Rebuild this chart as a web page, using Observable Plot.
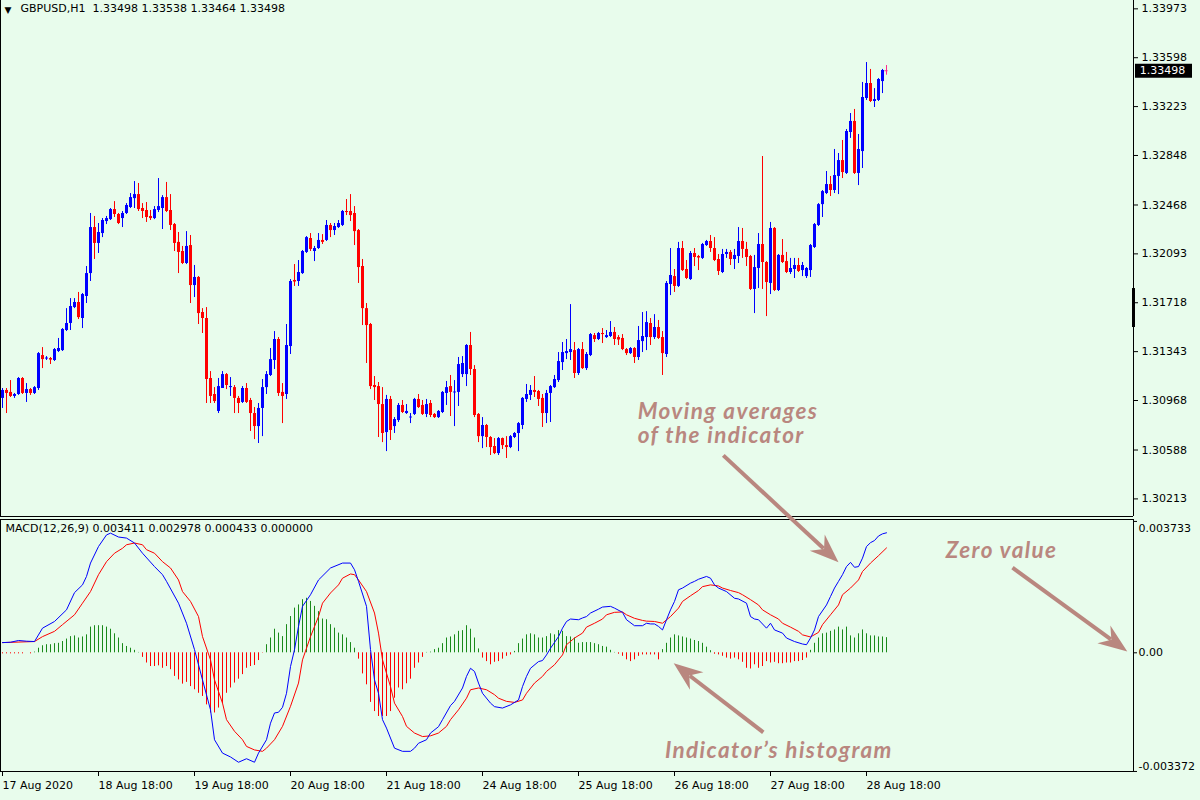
<!DOCTYPE html>
<html><head><meta charset="utf-8">
<script src="https://cdn.jsdelivr.net/npm/d3@7"></script>
<script src="https://cdn.jsdelivr.net/npm/@observablehq/plot@0.6"></script>
<style>
html,body{margin:0;padding:0;background:#e8fcec;}
#wrap{position:relative;width:1200px;height:800px;overflow:hidden;background:#e8fcec;}
#p1{position:absolute;left:0;top:0;}
#p2{position:absolute;left:0;top:517px;}
.note text{letter-spacing:1.4px;}
</style></head><body><div id="wrap"><div id="p1"></div><div id="p2"></div></div>
<script>
// ---------- price data (GBPUSD H1, one value per hourly bar) ----------
const opens = [
1.30984,1.31045,1.31030,1.30999,1.31014,1.31137,1.31022,1.31052,1.31022,1.31060,
1.31313,1.31286,1.31290,1.31275,1.31344,1.31351,1.31505,1.31559,1.31681,1.31720,
1.31597,1.31766,1.31942,1.32295,1.32173,1.32249,1.32341,1.32356,1.32433,1.32395,
1.32364,1.32403,1.32449,1.32517,1.32548,1.32441,1.32426,1.32380,1.32364,1.32426,
1.32441,1.32525,1.32426,1.32318,1.32181,1.32111,1.32019,1.32157,1.31850,1.31912,
1.31643,1.31597,1.31137,1.31014,1.30884,1.31060,1.31167,1.31067,1.31067,1.30984,
1.30953,1.31060,1.30968,1.30868,1.30768,1.30907,1.31067,1.31160,1.31275,1.31436,
1.31030,1.31014,1.31382,1.31889,1.31881,1.31942,1.32104,1.32211,1.32111,1.32134,
1.32196,1.32196,1.32311,1.32272,1.32295,1.32311,1.32418,1.32418,1.32403,1.32272,
1.31996,1.31673,1.31551,1.31083,1.31075,1.30937,1.30722,1.30976,1.30768,1.30814,
1.30930,1.30868,1.30834,1.30861,1.30976,1.30930,1.30861,1.30945,1.30861,1.30837,
1.30876,1.31022,1.31075,1.31026,1.31030,1.31167,1.31167,1.31390,1.31206,1.30861,
1.30691,1.30776,1.30684,1.30615,1.30561,1.30676,1.30622,1.30607,1.30684,1.30715,
1.30776,1.30976,1.31007,1.31045,1.31037,1.30984,1.30868,1.31022,1.31067,1.31121,
1.31259,1.31328,1.31336,1.31351,1.31175,1.31359,1.31213,1.31313,1.31466,1.31436,
1.31482,1.31451,1.31459,1.31490,1.31451,1.31444,1.31359,1.31328,1.31367,1.31298,
1.31420,1.31451,1.31559,1.31451,1.31528,1.31451,1.31321,1.31858,1.31919,1.31843,
1.32134,1.31973,1.31896,1.32096,1.32073,1.32058,1.32157,1.32188,1.32134,1.32050,
1.31950,1.32088,1.32104,1.32050,1.32073,1.32188,1.32127,1.32073,1.31820,1.31981,
1.32165,1.32027,1.31866,1.32288,1.31812,1.32081,1.32034,1.31950,1.31973,1.32004,
1.31965,1.31919,1.31965,1.32142,1.32311,1.32471,1.32556,1.32625,1.32579,1.32687,
1.32809,1.32710,1.33024,1.33109,1.32710,1.32878,1.33285,1.33400,1.33262,1.33270,
1.33415,1.33498];
const highs = [
1.31060,1.31060,1.31121,1.31022,1.31144,1.31144,1.31098,1.31060,1.31075,1.31336,
1.31374,1.31305,1.31298,1.31367,1.31444,1.31520,1.31673,1.31750,1.31750,1.31797,
1.31789,1.31996,1.32403,1.32380,1.32326,1.32364,1.32380,1.32441,1.32494,1.32403,
1.32418,1.32479,1.32556,1.32648,1.32633,1.32479,1.32487,1.32426,1.32456,1.32671,
1.32540,1.32641,1.32548,1.32326,1.32257,1.32150,1.32264,1.32234,1.32004,1.31919,
1.31673,1.31681,1.31190,1.31067,1.31137,1.31190,1.31175,1.31144,1.31083,1.30999,
1.31075,1.31098,1.30984,1.30914,1.30945,1.31129,1.31190,1.31367,1.31497,1.31451,
1.31098,1.31551,1.31896,1.32011,1.32042,1.32119,1.32226,1.32249,1.32150,1.32249,
1.32241,1.32349,1.32326,1.32326,1.32349,1.32426,1.32510,1.32548,1.32456,1.32280,
1.32050,1.31712,1.31559,1.31152,1.31106,1.31067,1.31007,1.30999,1.30837,1.30945,
1.30968,1.30937,1.30868,1.30984,1.31014,1.30968,1.30976,1.30968,1.30868,1.30891,
1.31037,1.31114,1.31160,1.31121,1.31298,1.31305,1.31397,1.31490,1.31236,1.30868,
1.30837,1.30784,1.30691,1.30676,1.30684,1.30680,1.30691,1.30699,1.30722,1.30799,
1.30991,1.31091,1.31083,1.31152,1.31045,1.31014,1.31045,1.31083,1.31160,1.31336,
1.31413,1.31436,1.31704,1.31413,1.31367,1.31413,1.31336,1.31482,1.31482,1.31490,
1.31520,1.31505,1.31574,1.31528,1.31466,1.31474,1.31367,1.31374,1.31374,1.31536,
1.31643,1.31650,1.31597,1.31627,1.31582,1.31497,1.31881,1.32134,1.31973,1.32181,
1.32188,1.32042,1.32111,1.32134,1.32081,1.32173,1.32196,1.32234,1.32218,1.32088,
1.32127,1.32127,1.32119,1.32127,1.32295,1.32288,1.32181,1.32081,1.32081,1.32249,
1.32840,1.32034,1.32334,1.32295,1.32088,1.32203,1.32104,1.32058,1.32058,1.32058,
1.32027,1.31988,1.32165,1.32326,1.32479,1.32579,1.32725,1.32687,1.32894,1.32863,
1.32963,1.33047,1.33170,1.33201,1.33009,1.33408,1.33561,1.33508,1.33361,1.33438,
1.33508,1.33538];
const lows = [
1.30907,1.30868,1.30991,1.30984,1.31007,1.31014,1.30953,1.31007,1.31014,1.31045,
1.31213,1.31275,1.31244,1.31267,1.31336,1.31344,1.31497,1.31505,1.31673,1.31589,
1.31520,1.31712,1.31881,1.32050,1.32096,1.32218,1.32318,1.32349,1.32372,1.32318,
1.32295,1.32395,1.32441,1.32441,1.32418,1.32364,1.32334,1.32349,1.32356,1.32410,
1.32280,1.32410,1.32272,1.32111,1.31942,1.32011,1.32011,1.31712,1.31758,1.31551,
1.31482,1.30945,1.30945,1.30945,1.30868,1.31060,1.31052,1.30999,1.30868,1.30868,
1.30945,1.30945,1.30730,1.30668,1.30638,1.30691,1.31014,1.31152,1.31206,1.30999,
1.30791,1.30976,1.31321,1.31843,1.31843,1.31935,1.32096,1.32111,1.32034,1.32127,
1.32165,1.32188,1.32218,1.32234,1.32288,1.32303,1.32387,1.32341,1.32157,1.31866,
1.31543,1.31252,1.31052,1.30968,1.30684,1.30645,1.30576,1.30661,1.30715,1.30799,
1.30868,1.30861,1.30791,1.30853,1.30907,1.30853,1.30837,1.30837,1.30830,1.30830,
1.30868,1.30930,1.30845,1.30768,1.30922,1.31144,1.31075,1.31160,1.30837,1.30645,
1.30599,1.30607,1.30546,1.30553,1.30546,1.30592,1.30523,1.30599,1.30676,1.30576,
1.30745,1.30953,1.30968,1.30991,1.30922,1.30761,1.30791,1.30799,1.31060,1.31106,
1.31198,1.31282,1.31275,1.31137,1.31160,1.31206,1.31198,1.31305,1.31413,1.31428,
1.31405,1.31444,1.31451,1.31390,1.31390,1.31351,1.31313,1.31321,1.31252,1.31275,
1.31336,1.31351,1.31390,1.31436,1.31436,1.31160,1.31298,1.31773,1.31797,1.31835,
1.31958,1.31896,1.31889,1.31996,1.31965,1.32050,1.32150,1.32104,1.32034,1.31927,
1.31942,1.32058,1.32004,1.31973,1.32019,1.32058,1.31996,1.31812,1.31635,1.31827,
1.31820,1.31612,1.31781,1.31804,1.31804,1.32019,1.31942,1.31935,1.31904,1.31950,
1.31919,1.31904,1.31912,1.32134,1.32303,1.32372,1.32548,1.32533,1.32556,1.32548,
1.32671,1.32702,1.32979,1.32702,1.32617,1.32748,1.33270,1.33254,1.33216,1.33262,
1.33323,1.33464];
const closes = [
1.31045,1.31022,1.30999,1.31014,1.31137,1.31022,1.31052,1.31022,1.31067,1.31328,
1.31282,1.31294,1.31278,1.31359,1.31367,1.31513,1.31559,1.31689,1.31720,1.31604,
1.31781,1.31942,1.32295,1.32173,1.32257,1.32349,1.32364,1.32433,1.32395,1.32326,
1.32403,1.32464,1.32525,1.32548,1.32433,1.32418,1.32372,1.32364,1.32433,1.32456,
1.32525,1.32418,1.32311,1.32173,1.32104,1.32019,1.32150,1.31850,1.31912,1.31635,
1.31597,1.31129,1.30999,1.30960,1.31075,1.31167,1.31083,1.31075,1.30984,1.30945,
1.31060,1.30953,1.30868,1.30768,1.30907,1.31067,1.31167,1.31282,1.31436,1.31022,
1.30999,1.31390,1.31881,1.31877,1.31950,1.32111,1.32218,1.32127,1.32134,1.32196,
1.32181,1.32311,1.32272,1.32303,1.32326,1.32418,1.32410,1.32387,1.32264,1.31988,
1.31673,1.31543,1.31075,1.31067,1.30937,1.30715,1.30976,1.30738,1.30822,1.30930,
1.30876,1.30884,1.30841,1.30976,1.30914,1.30861,1.30937,1.30853,1.30837,1.30884,
1.31030,1.31067,1.31030,1.31033,1.31244,1.31252,1.31390,1.31206,1.30853,1.30691,
1.30776,1.30684,1.30607,1.30561,1.30676,1.30622,1.30607,1.30691,1.30715,1.30791,
1.30984,1.31014,1.31045,1.31030,1.30976,1.30868,1.31022,1.31075,1.31129,1.31267,
1.31336,1.31344,1.31359,1.31175,1.31359,1.31213,1.31321,1.31474,1.31436,1.31482,
1.31474,1.31466,1.31490,1.31436,1.31432,1.31359,1.31328,1.31367,1.31298,1.31428,
1.31459,1.31566,1.31451,1.31528,1.31444,1.31328,1.31866,1.31927,1.31843,1.32134,
1.31965,1.31904,1.32096,1.32065,1.32061,1.32165,1.32188,1.32134,1.32042,1.31958,
1.32088,1.32104,1.32050,1.32081,1.32188,1.32127,1.32065,1.31820,1.31988,1.32165,
1.32027,1.31873,1.32288,1.31812,1.32081,1.32027,1.31950,1.31981,1.32004,1.31958,
1.32004,1.31981,1.32157,1.32318,1.32471,1.32571,1.32625,1.32579,1.32694,1.32809,
1.32717,1.33032,1.33109,1.32710,1.32894,1.33293,1.33400,1.33262,1.33277,1.33431,
1.33500,1.33498];

// ---------- MACD(12,26,9) data, values in thousandths (x 0.001) ----------
const macdHist = [
-0.03,-0.03,-0.03,-0.03,-0.03,-0.03,0,-0.03,0.02,0.13,
0.20,0.23,0.23,0.26,0.27,0.32,0.39,0.46,0.48,0.42,
0.45,0.51,0.73,0.77,0.77,0.77,0.73,0.67,0.54,0.42,
0.26,0.18,0.13,0.07,0.01,-0.13,-0.29,-0.39,-0.39,-0.37,
-0.44,-0.39,-0.48,-0.67,-0.77,-0.89,-0.84,-0.96,-1.05,-1.15,
-1.24,-1.48,-1.71,-1.71,-1.57,-1.45,-1.15,-1.00,-0.86,-0.75,
-0.62,-0.44,-0.39,-0.36,-0.22,-0.01,0.23,0.42,0.67,0.56,
0.46,0.80,1.03,1.27,1.36,1.51,1.55,1.46,1.32,1.17,
0.96,0.94,0.80,0.70,0.56,0.51,0.42,0.29,0.13,-0.18,
-0.60,-0.91,-1.41,-1.67,-1.81,-1.81,-1.81,-1.67,-1.29,-1.00,
-1.05,-0.88,-0.75,-0.44,-0.29,-0.13,0.01,0.02,0.09,0.13,
0.26,0.42,0.45,0.51,0.61,0.63,0.77,0.67,0.42,0.11,
-0.15,-0.25,-0.34,-0.27,-0.25,-0.18,-0.10,-0.06,0.04,0.26,
0.39,0.51,0.54,0.51,0.42,0.42,0.46,0.54,0.51,0.63,
0.61,0.46,0.45,0.42,0.27,0.29,0.29,0.29,0.26,0.23,
0.18,0.16,0.07,0.01,-0.04,-0.10,-0.20,-0.25,-0.20,-0.10,
-0.06,-0.06,-0.06,-0.06,-0.20,0.09,0.27,0.42,0.51,0.48,
0.45,0.42,0.39,0.35,0.32,0.27,0.16,0.06,-0.04,-0.06,
-0.10,-0.15,-0.18,-0.15,-0.20,-0.27,-0.44,-0.46,-0.34,-0.44,
-0.39,-0.25,-0.29,-0.27,-0.31,-0.31,-0.29,-0.29,-0.25,-0.25,
-0.22,-0.15,0.07,0.27,0.42,0.54,0.56,0.61,0.65,0.73,
0.65,0.73,0.48,0.42,0.54,0.65,0.54,0.48,0.48,0.45,
0.45,0.43];
// [bar, value] samples of the blue MACD line
const macdMain = [[0,0.29],[2,0.30],[4,0.35],[6,0.33],[8,0.32],[10,0.70],[13,0.89],[16,1.22],[18,1.71],[20,1.93],[21,2.17],[22,2.55],[24,3.02],[26,3.35],[27,3.40],[29,3.29],[31,3.26],[33,3.12],[35,2.83],[38,2.45],[40,2.22],[41,2.03],[44,1.41],[46,0.84],[48,0.09],[50,-0.77],[52,-1.62],[53,-2.47],[55,-2.85],[57,-2.96],[59,-3.11],[61,-3.01],[63,-3.11],[64,-2.85],[66,-2.47],[67,-2.00],[68,-1.71],[69,-1.69],[70,-1.55],[71,-1.15],[72,-0.39],[73,0.09],[74,0.75],[75,1.32],[77,1.65],[79,2.07],[82,2.41],[85,2.55],[87,2.55],[88,2.36],[89,2.03],[91,1.32],[92,0.09],[93,-0.77],[94,-1.15],[95,-1.90],[96,-2.14],[98,-2.71],[100,-2.80],[102,-2.80],[103,-2.71],[104,-2.57],[106,-2.47],[107,-2.28],[109,-2.10],[110,-1.90],[112,-1.50],[113,-1.38],[115,-1.00],[116,-0.67],[117,-0.44],[118,-0.53],[119,-0.86],[120,-1.15],[122,-1.43],[123,-1.53],[125,-1.57],[127,-1.48],[129,-1.34],[130,-0.96],[131,-0.67],[132,-0.44],[134,-0.25],[135,-0.22],[136,-0.06],[137,0.13],[139,0.46],[140,0.70],[141,0.89],[142,0.96],[144,0.94],[145,0.99],[146,1.03],[147,1.13],[149,1.24],[150,1.30],[152,1.32],[153,1.27],[155,1.15],[156,0.94],[158,0.77],[160,0.77],[161,0.84],[162,0.82],[163,0.82],[164,0.75],[165,0.65],[166,0.94],[167,1.22],[168,1.46],[169,1.79],[170,1.84],[172,1.98],[173,2.03],[174,2.09],[176,2.17],[177,2.12],[178,1.93],[179,1.84],[181,1.74],[183,1.55],[184,1.53],[186,1.41],[187,1.03],[188,0.96],[189,0.94],[191,0.70],[192,0.84],[193,0.65],[195,0.56],[196,0.42],[198,0.32],[200,0.25],[201,0.23],[202,0.42],[203,0.65],[204,1.03],[206,1.36],[207,1.60],[208,1.84],[209,2.03],[210,2.22],[211,2.45],[212,2.57],[213,2.43],[214,2.45],[215,2.69],[216,3.02],[217,3.13],[218,3.19],[219,3.32],[220,3.38],[221,3.41]];
// [bar, value] samples of the red signal line
const macdSignal = [[0,0.29],[8,0.32],[10,0.46],[13,0.61],[15,0.80],[18,1.08],[20,1.41],[22,1.74],[24,2.22],[26,2.59],[28,2.83],[30,2.97],[31,3.07],[33,3.12],[35,3.07],[36,2.93],[38,2.83],[40,2.59],[42,2.41],[44,2.07],[45,1.74],[47,1.46],[49,1.03],[50,0.46],[52,-0.20],[53,-0.77],[55,-1.43],[56,-1.90],[58,-2.23],[60,-2.47],[61,-2.66],[63,-2.76],[65,-2.80],[66,-2.71],[68,-2.47],[70,-2.09],[72,-1.52],[74,-0.86],[75,-0.20],[77,0.46],[79,1.03],[80,1.41],[82,1.70],[84,1.93],[85,2.12],[87,2.24],[88,2.22],[89,2.07],[91,1.74],[93,1.13],[94,0.56],[95,-0.20],[97,-0.96],[98,-1.43],[100,-1.81],[101,-2.09],[103,-2.28],[105,-2.38],[107,-2.36],[109,-2.28],[111,-2.09],[112,-1.90],[114,-1.62],[116,-1.29],[117,-1.05],[119,-1.00],[121,-1.05],[123,-1.19],[124,-1.29],[126,-1.38],[128,-1.41],[130,-1.34],[131,-1.15],[133,-0.86],[135,-0.67],[136,-0.53],[138,-0.34],[140,-0.06],[141,0.23],[143,0.42],[145,0.56],[146,0.73],[148,0.84],[150,0.96],[151,1.08],[153,1.15],[155,1.16],[156,1.08],[158,0.98],[160,0.92],[161,0.90],[163,0.89],[165,0.84],[167,1.03],[169,1.27],[170,1.46],[172,1.62],[174,1.77],[175,1.88],[177,1.93],[179,1.90],[180,1.84],[182,1.77],[184,1.71],[185,1.65],[187,1.51],[189,1.36],[190,1.22],[192,1.08],[194,0.96],[195,0.84],[197,0.73],[199,0.61],[200,0.51],[202,0.45],[204,0.58],[205,0.80],[207,1.08],[209,1.36],[210,1.65],[212,1.84],[214,2.07],[215,2.31],[217,2.55],[219,2.76],[221,2.98]];
const macdHeaderValues = ["0.003411", "0.002978", "0.000433", "0.000000"];

// ---------- axis ticks & labels ----------
const priceTicks = [1.33973,1.33598,1.33223,1.32848,1.32468,1.32093,1.31718,1.31343,1.30968,1.30588,1.30213];
const timeTickBars = [0,24,48,72,96,120,144,168,192,216];
const timeTickLabels = ["17 Aug 2020","18 Aug 18:00","19 Aug 18:00","20 Aug 18:00","21 Aug 18:00","24 Aug 18:00","25 Aug 18:00","26 Aug 18:00","27 Aug 18:00","28 Aug 18:00"];
const macdTicks = [3.733, 0, -3.372];
const macdTickLabels = ["0.003733", "0.00", "-0.003372"];

// ---------- annotations (anchored in bar / MACD-value coordinates) ----------
const noteTexts = ["Moving averages\nof the indicator", "Zero value", "Indicator\u2019s histogram"];
const noteBars = [158.8, 235.8, 165.6];
const noteValues = [6.53, 2.91, -2.77];
const arrowFromBars = [180.2, 252.5, 190.2];
const arrowFromValues = [5.61, 2.42, -2.26];
const arrowToBars = [209.0, 281.2, 167.8];
const arrowToValues = [2.57, 0.04, -0.30];

// ---------- build tables ----------
const candles = opens.map((o, i) => ({i, open: o, high: highs[i], low: lows[i], close: closes[i]}));
const candleColor = d => d.close > d.open ? "#0000ff" : d.close < d.open ? "#ff0000" : "#ff2a8c";
const hist = macdHist.map((v, i) => ({i, v}));
const mainLine = macdMain.map(([i, v]) => ({i, v}));
const sigLine = macdSignal.map(([i, v]) => ({i, v}));
const notes = noteTexts.map((t, k) => ({t, i: noteBars[k], v: noteValues[k]}));
const last = candles[candles.length - 1];
const f5 = d3.format(".5f");
const titleText = `GBPUSD,H1  ${f5(last.open)} ${f5(last.high)} ${f5(last.low)} ${f5(last.close)}`;
const macdHeader = `MACD(12,26,9) ${macdHeaderValues.join(" ")}`;

const xDomain = [-0.5, 282.75];
const macdDomain = [-3.373, 3.788];
const baseStyle = {background: "transparent", fontFamily: "'DejaVu Sans', sans-serif", fontSize: "11px", color: "#000", overflow: "visible"};
const ink = "#000";
const noteColor = "#b9877f";

// arrows: shaft + filled notched head, oriented in screen space via the panel scales
const sx = Plot.scale({x: {domain: xDomain, range: [0, 1133]}});
const sy = Plot.scale({y: {domain: macdDomain, range: [254, 2]}});
const HEAD_R = 10, HEAD_L = 2.9 * HEAD_R;
const headSymbol = {draw(ctx, size) {
  const r = Math.sqrt(size / Math.PI), L = 2.9 * r, w = 1.1 * r;
  ctx.moveTo(0, 0); ctx.lineTo(-w, L); ctx.lineTo(0, 0.68 * L); ctx.lineTo(w, L); ctx.closePath();
}};
const arrowRows = arrowFromBars.map((b, k) => {
  const px1 = sx.apply(b), py1 = sy.apply(arrowFromValues[k]);
  const px2 = sx.apply(arrowToBars[k]), py2 = sy.apply(arrowToValues[k]);
  const dx = px2 - px1, dy = py2 - py1, len = Math.hypot(dx, dy);
  const ex = px2 - dx / len * 0.7 * HEAD_L, ey = py2 - dy / len * 0.7 * HEAD_L;
  return {x1: b, y1: arrowFromValues[k], x2: arrowToBars[k], y2: arrowToValues[k],
          sx2: sx.invert(ex), sy2: sy.invert(ey), angle: Math.atan2(dx, -dy) * 180 / Math.PI};
});

// ---------- price panel ----------
const priceDomain = [1.30078, 1.34037];
const p1 = Plot.plot({
  width: 1200, height: 518,
  marginLeft: 0, marginRight: 67, marginTop: 0, marginBottom: 2,
  style: baseStyle,
  x: {domain: xDomain, axis: null},
  y: {domain: priceDomain, axis: null},
  marks: [
    Plot.ruleX(candles, {x: "i", y1: "low", y2: "high", stroke: candleColor, strokeWidth: 1}),
    Plot.ruleX(candles.filter(d => d.open !== d.close), {x: "i", y1: "open", y2: "close", stroke: candleColor, strokeWidth: 3}),
    Plot.ruleY(candles.filter(d => d.open === d.close), {y: "close", x1: d => d.i - 0.4, x2: d => d.i + 0.4, stroke: candleColor}),
    Plot.axisY({anchor: "right", ticks: priceTicks, tickFormat: f5, tickSize: 4, tickPadding: 4, fontSize: 11, stroke: ink, fill: ink}),
    Plot.ruleX(xDomain, {stroke: ink}),
    Plot.ruleY([priceDomain[0]], {stroke: ink}),
    Plot.ruleX([xDomain[1]], {y1: 1.31528, y2: 1.31827, stroke: ink, strokeWidth: 3}),
    Plot.ruleY([last.close], {x1: 283.25, x2: 297.5, stroke: ink, strokeWidth: 14}),
    Plot.text([last.close], {x: 284.3, y: d => d, text: d => f5(d), fill: "#fff", textAnchor: "start", fontSize: 11}),
    Plot.text(["\u25BC"], {frameAnchor: "top-left", dx: 4, dy: 6, fontSize: 9, fill: ink}),
    Plot.text([titleText], {frameAnchor: "top-left", dx: 20, dy: 4, text: d => d, fill: ink, fontSize: 11})
  ]
});
document.getElementById("p1").append(p1);

// ---------- MACD panel ----------
const labelOf = new Map(timeTickBars.map((b, k) => [b, timeTickLabels[k]]));
const macdLabelMark = (k, dy) => Plot.text([macdTicks[k]], {y: d => d, frameAnchor: "right", dx: 5, dy, text: () => macdTickLabels[k], textAnchor: "start", fill: ink, fontSize: 11});
const p2 = Plot.plot({
  width: 1200, height: 283,
  marginLeft: 0, marginRight: 67, marginTop: 2, marginBottom: 29,
  style: baseStyle,
  x: {domain: xDomain, axis: null},
  y: {domain: macdDomain, axis: null},
  marks: [
    Plot.ruleX(hist, {x: "i", y1: 0, y2: "v", stroke: d => d.v >= 0 ? "#1a8a1a" : "#ff0000", strokeWidth: 1}),
    Plot.line(sigLine, {x: "i", y: "v", stroke: "#ff0000", strokeWidth: 1}),
    Plot.line(mainLine, {x: "i", y: "v", stroke: "#0000ff", strokeWidth: 1}),
    Plot.ruleX(xDomain, {stroke: ink}),
    Plot.ruleY(macdDomain, {stroke: ink}),
    Plot.ruleY(macdTicks, {x1: xDomain[1], x2: xDomain[1] + 1, stroke: ink}),
    macdLabelMark(0, 7),
    macdLabelMark(1, 0),
    macdLabelMark(2, -5),
    Plot.axisX({anchor: "bottom", ticks: timeTickBars, tickFormat: d => labelOf.get(d), tickSize: 5, tickPadding: 5, textAnchor: "start", dx: 0, fontSize: 11, stroke: ink, fill: ink}),
    Plot.text([macdHeader], {frameAnchor: "top-left", dx: 5, dy: 5, text: d => d, fill: ink, fontSize: 11}),
    Plot.link(arrowRows, {x1: "x1", y1: "y1", x2: "sx2", y2: "sy2", stroke: noteColor, strokeWidth: 4}),
    Plot.dot(arrowRows, {x: "x2", y: "y2", r: HEAD_R, symbol: headSymbol, rotate: "angle", fill: noteColor, stroke: "none"}),
    Plot.text(notes, {x: "i", y: "v", text: "t", textAnchor: "start", lineHeight: 1.1, fill: noteColor, fontSize: 22.5, fontStyle: "italic", fontWeight: "bold", fontFamily: "Lato, 'DejaVu Sans', sans-serif", className: "note"})
  ]
});
document.getElementById("p2").append(p2);
</script>
</body></html>
